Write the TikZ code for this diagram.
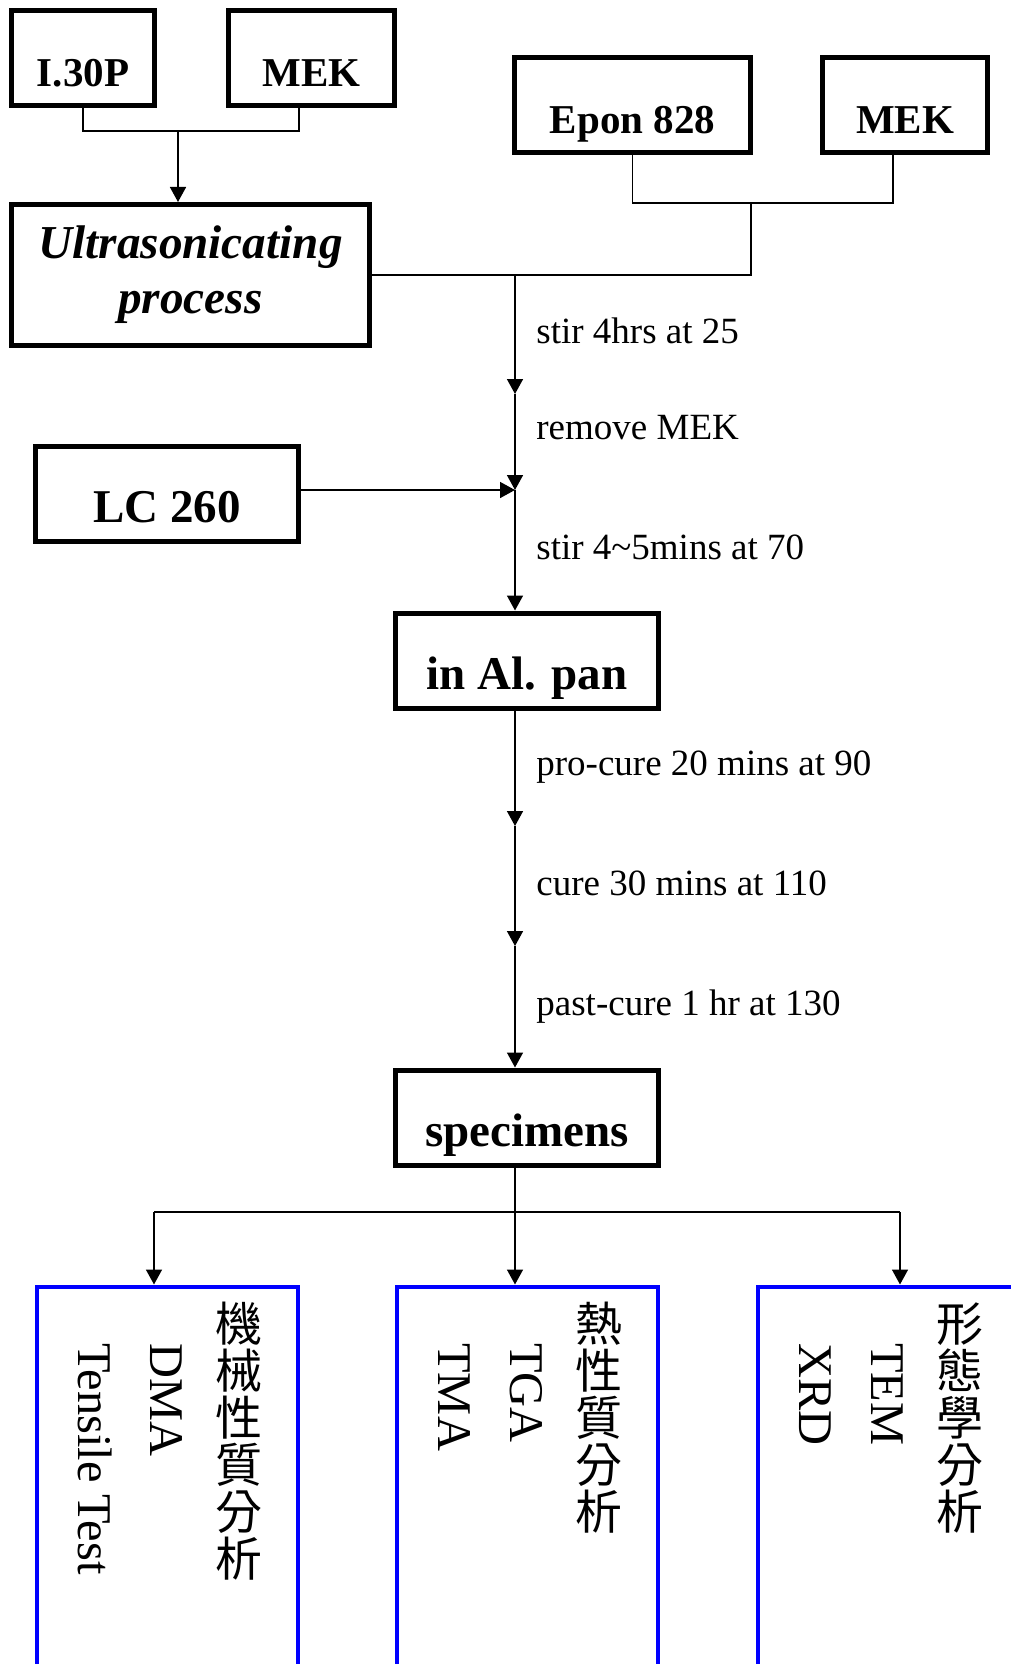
\documentclass[tikz,border=0pt]{standalone}
\usepackage{fontspec}
\setmainfont{Liberation Serif}
\newfontfamily\cjk{Noto Sans CJK TC}
\usetikzlibrary{arrows.meta}

\begin{document}
\begin{tikzpicture}[x=0.5pt, y=-0.5pt, >={Triangle[length=7.5pt, width=8pt]},
  box/.style={draw, line width=2.5pt, inner sep=0pt, anchor=base, text height=38pt, text depth=9.5pt, font=\fontsize{20.5}{24}\selectfont\bfseries},
  bigbox/.style={box, font=\fontsize{23.5}{28}\selectfont\bfseries},
  test/.style={draw=blue, line width=2pt, inner sep=0pt, anchor=north, minimum width=130.5pt, minimum height=220pt},
  cond/.style={anchor=base west, inner sep=0pt, font=\fontsize{18.5}{22}\selectfont},
  kind/.style={anchor=north, inner sep=0pt, align=center, font=\cjk\fontsize{23.5}{23.5}\selectfont},
  method/.style={anchor=base west, inner sep=0pt, rotate=-90, font=\fontsize{24.2}{30}\selectfont},
  link/.style={line width=0.8pt}]

\useasboundingbox (0,0) rectangle (1011,1664);
\clip (0,0) rectangle (1011,1664);

% --- Inputs ---
\node[box, minimum width=71.5pt] (i30p) at (83,87) {I.30P};
\node[box, minimum width=83pt] (mekA) at (311.5,87) {MEK};
\node[box, minimum width=118pt] (epon) at (632.5,134) {Epon 828};
\node[box, minimum width=82.5pt] (mekB) at (905,134) {MEK};
\node[draw, line width=2.5pt, inner sep=0pt, minimum width=179pt, minimum height=70.5pt, align=center,
  font=\fontsize{23.6}{27.5}\selectfont\bfseries\itshape] (ultra) at (190.5,275) {Ultrasonicating\\process};
\node[bigbox, minimum width=131.5pt] (lc) at (167,522) {LC 260};

% --- Process ---
\node[bigbox, minimum width=131.5pt] (alpan) at (527,689) {in Al. pan};
\node[bigbox, minimum width=131.5pt] (spec) at (527,1146) {specimens};

\node[cond] (c1) at (536,343) {stir 4hrs at 25};
\node[cond] (c2) at (536,439) {remove MEK};
\node[cond] (c3) at (536,559) {stir 4\textasciitilde5mins at 70};
\node[cond] (c4) at (536,775) {pro-cure 20 mins at 90};
\node[cond] (c5) at (536,895) {cure 30 mins at 110};
\node[cond] (c6) at (536,1015) {past-cure 1 hr at 130};

% --- Tests ---
\node[test] (mech) at (167,1284.5) {};
\node[test] (therm) at (527,1284.5) {};
\node[test] (morph) at (888,1284.5) {};

\node[kind] (mechK) at ([xshift=102.25pt, yshift=-8.75pt]mech.north west) {機\\械\\性\\質\\分\\析};
\node[method] (mechA) at ([xshift=57.75pt, yshift=-29.25pt]mech.north west) {DMA};
\node[method] (mechB) at ([xshift=21.75pt, yshift=-29.25pt]mech.north west) {Tensile Test};

\node[kind] (thermK) at ([xshift=102.25pt, yshift=-8.75pt]therm.north west) {熱\\性\\質\\分\\析};
\node[method] (thermA) at ([xshift=57.75pt, yshift=-29.25pt]therm.north west) {TGA};
\node[method] (thermB) at ([xshift=21.75pt, yshift=-29.25pt]therm.north west) {TMA};

\node[kind] (morphK) at ([xshift=102.25pt, yshift=-8.75pt]morph.north west) {形\\態\\學\\分\\析};
\node[method] (morphA) at ([xshift=57.75pt, yshift=-29.25pt]morph.north west) {TEM};
\node[method] (morphB) at ([xshift=21.75pt, yshift=-29.25pt]morph.north west) {XRD};

% mixing lines
\coordinate (jA) at (178,131);
\draw[link] (i30p.south) |- (jA) -| ([xshift=-6.25pt]mekA.south);
\draw[link, ->] (jA) -- (jA |- ultra.north);
\coordinate (jB) at (751,203);
\draw[link] (epon.south) |- (jB) -| ([xshift=-6pt]mekB.south);
\coordinate (jC) at (515,275);
\draw[link] (ultra.east) -- (jC) -| (jB);

% main line
\coordinate (s1) at (515,394);
\coordinate (s2) at (515,490);
\coordinate (s3) at (515,826);
\coordinate (s4) at (515,946);
\draw[link, ->] (jC) -- (s1);
\draw[link, ->] (s1) -- (s2);
\draw[link, ->] (lc.east |- s2) -- (s2);
\draw[link, ->] (s2) -- (s2 |- alpan.north);
\draw[link, ->] (s3 |- alpan.south) -- (s3);
\draw[link, ->] (s3) -- (s4);
\draw[link, ->] (s4) -- (s4 |- spec.north);

% branches
\coordinate (b0) at (515,1212);
\coordinate (bl) at (154,1212);
\coordinate (br) at (900,1212);
\draw[link] (b0 |- spec.south) -- (b0);
\draw[link] (bl) -- (br);
\draw[link, ->] (bl) -- (bl |- mech.north);
\draw[link, ->] (b0) -- (b0 |- therm.north);
\draw[link, ->] (br) -- (br |- morph.north);

\end{tikzpicture}
\end{document}
